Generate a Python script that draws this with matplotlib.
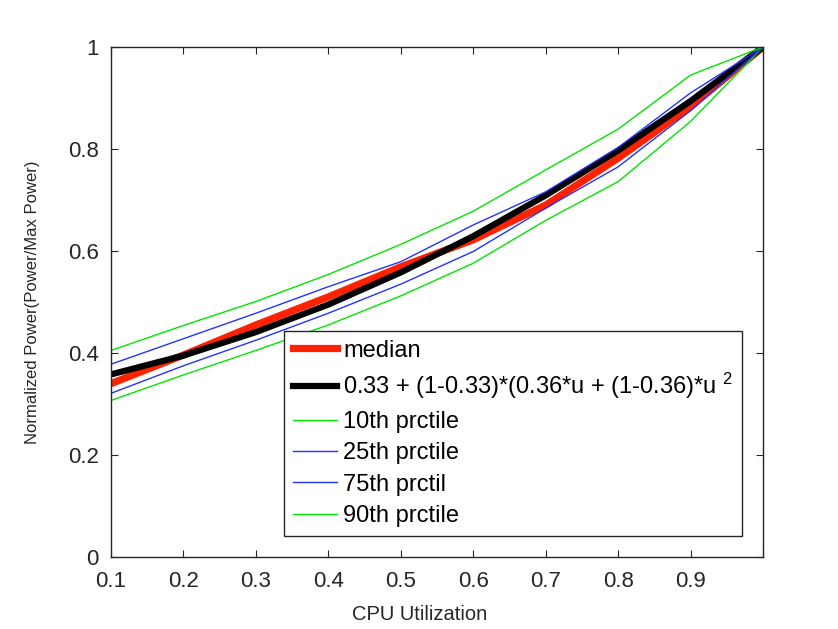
import matplotlib
matplotlib.use("Agg")
import matplotlib.pyplot as plt

plt.rcParams['font.family'] = ['Liberation Sans', 'DejaVu Sans']
plt.rcParams['mathtext.fontset'] = 'custom'
plt.rcParams['mathtext.rm'] = 'Liberation Sans'
plt.rcParams['mathtext.it'] = 'Liberation Sans'

# Data
cpu_util = [0.1, 0.2, 0.3, 0.4, 0.5, 0.6, 0.7, 0.8, 0.9, 1.0]
median = [0.340, 0.396, 0.455, 0.510, 0.569, 0.622, 0.690, 0.782, 0.883, 1.0]
fit = [0.358, 0.395, 0.441, 0.495, 0.558, 0.629, 0.709, 0.797, 0.894, 1.0]
p10 = [0.307, 0.357, 0.405, 0.455, 0.512, 0.576, 0.660, 0.736, 0.854, 1.0]
p25 = [0.321, 0.375, 0.425, 0.478, 0.535, 0.599, 0.684, 0.765, 0.875, 1.0]
p75 = [0.378, 0.428, 0.478, 0.530, 0.579, 0.651, 0.716, 0.803, 0.910, 1.0]
p90 = [0.405, 0.454, 0.501, 0.554, 0.613, 0.678, 0.759, 0.839, 0.945, 1.0]

labels = ['median',
          '0.33 + (1-0.33)*(0.36*u + (1-0.36)*u $^{2}$',
          '10th prctile', '25th prctile', '75th prctil', '90th prctile']
xticks = [0.1, 0.2, 0.3, 0.4, 0.5, 0.6, 0.7, 0.8, 0.9, 1.0]
xticklabels = ['0.1', '0.2', '0.3', '0.4', '0.5', '0.6', '0.7', '0.8', '0.9', '']
yticks = [0, 0.2, 0.4, 0.6, 0.8, 1.0]
yticklabels = ['0', '0.2', '0.4', '0.6', '0.8', '1']

red = '#ff2200'
green = '#00e600'
blue = '#2233ff'

fig = plt.figure(figsize=(8.38, 6.29), dpi=100)
ax = fig.add_axes([111/838, 1-557/629, 652/838, 510/629])

ax.plot(cpu_util, median, color=red, lw=5.2, label=labels[0])
ax.plot(cpu_util, fit, color='black', lw=4.5, label=labels[1])
ax.plot(cpu_util, p10, color=green, lw=1.0, label=labels[2])
ax.plot(cpu_util, p25, color=blue, lw=1.0, label=labels[3])
ax.plot(cpu_util, p75, color=blue, lw=1.0, label=labels[4])
ax.plot(cpu_util, p90, color=green, lw=1.0, label=labels[5])

ax.set_xlim(0.1, 1.0)
ax.set_ylim(0, 1)
ax.set_xticks(xticks)
ax.set_xticklabels(xticklabels)
ax.set_yticks(yticks)
ax.set_yticklabels(yticklabels)
ax.tick_params(direction='in', length=5, width=0.8, top=True, right=True,
               labelsize=16, colors='#262626')
ax.tick_params(axis='x', pad=10)
ax.tick_params(axis='y', pad=9)
for s in ax.spines.values():
    s.set_color('#262626')
    s.set_linewidth(1.0)

ax.set_xlabel('CPU Utilization', fontsize=14.5, color='#262626')
ax.xaxis.set_label_coords(0.473, -0.095)
ax.set_ylabel('Normalized Power(Power/Max Power)', fontsize=12, color='#262626')
ax.yaxis.set_label_coords(-0.109, 0.5)

leg = ax.legend(loc='lower right', bbox_to_anchor=(0.968, 0.041), borderaxespad=0,
                fontsize=17, frameon=True, fancybox=False, framealpha=1,
                edgecolor='#262626', handlelength=1.85, handletextpad=0.25,
                labelspacing=0.40, borderpad=0.38)
leg.get_frame().set_linewidth(1.0)

fig.savefig('out.png', dpi=100)
